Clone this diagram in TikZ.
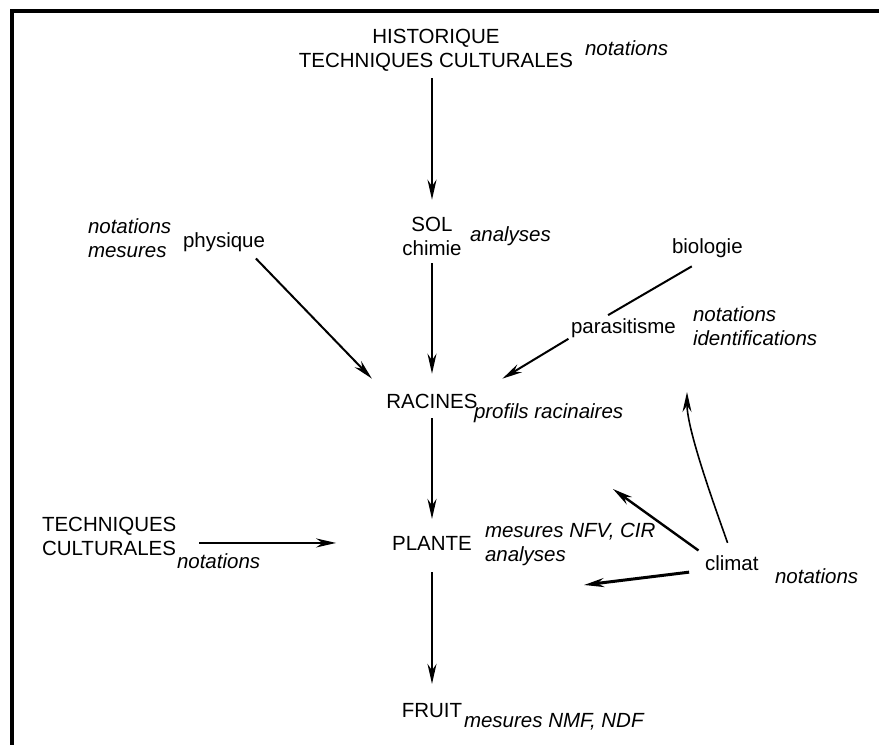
\documentclass[tikz,border=0pt]{standalone}
\usepackage{fontspec}
\setmainfont{Liberation Sans}
\usetikzlibrary{arrows.meta, calc}

\begin{document}
\begin{tikzpicture}[x=1pt, y=-1pt,
    every node/.style={inner sep=0pt, outer sep=0pt, font=\fontsize{20.5}{24}\selectfont},
    txt/.style={anchor=base},
    note/.style={anchor=base west, font=\fontsize{20.5}{24}\selectfont\itshape},
    arr/.style={line width=2pt, -{Stealth[length=20pt, width=9pt]}}]
    \useasboundingbox (0,0) rectangle (879,745);
    % frame
    \draw[line width=3.2pt] (12,746) -- (12,11) -- (880,11);

    % main nodes
    \node[align=center, anchor=south] (hist) at (436,71) {HISTORIQUE\\TECHNIQUES CULTURALES};
    \node[align=center, anchor=base] (sol) at (432,255) {SOL\\chimie};
    \node[anchor=base west] (phys) at (183,247) {physique};
    \node[anchor=base west] (bio) at (672,253) {biologie};
    \node[anchor=base west] (para) at (571,333) {parasitisme};
    \node[txt] (racines) at (432,408) {RACINES};
    \node[align=left, anchor=base west] (tc) at (42,555) {TECHNIQUES\\CULTURALES};
    \node[txt] (plante) at (432,550) {PLANTE};
    \node[anchor=base west] (climat) at (705,570) {climat};
    \node[txt] (fruit) at (432,717) {FRUIT};

    % annotations
    \node[note] (nhist) at (585,55) {notations};
    \node[note, align=left] (nphys) at (88,257) {notations\\mesures};
    \node[note] (nsol) at (470,241) {analyses};
    \node[note, align=left] (npara) at (693,345) {notations\\identifications};
    \node[note] (nrac) at (474,418) {profils racinaires};
    \node[note] (ntc) at (177,568) {notations};
    \node[note, align=left] (nplante) at (485,561) {mesures NFV, CIR\\analyses};
    \node[note] (nclim) at (775,583) {notations};
    \node[note] (nfruit) at (464,727) {mesures NMF, NDF};

    % free ends of the climat arrows
    \coordinate (c1) at (613,489);
    \coordinate (c2) at (687,392);
    \coordinate (c3) at (584,585);

    % connectors
    \draw[arr, shorten <=7pt, shorten >=17pt] (hist.south -| sol.north) -- (sol.north);
    \draw[arr, shorten <=8pt, shorten >=20pt] (sol.south) -- (racines.north);
    \draw[arr, shorten <=10pt, shorten >=21pt] (phys.-21) -- (racines.north west);
    \draw[line width=2pt, shorten <=18pt, shorten >=6pt] (bio.south) -- (para.155);
    \draw[arr, shorten <=3pt, shorten >=29pt] (para.south west) -- (racines.north east);
    \draw[arr, shorten <=10pt, shorten >=17pt] (racines.south) -- (plante.north);
    \draw[arr, line width=2.6pt, shorten <=23pt, shorten >=56pt] (tc.east |- plante.west) -- (plante.west);
    \draw[arr, shorten <=22pt, shorten >=19pt] (plante.south) -- (fruit.north);
    \draw[arr, line width=2.4pt, shorten <=8pt] (climat.north west) -- (c1);
    \draw[arr, line width=1.6pt, shorten <=13pt] (climat.north) .. controls +(-12,-35) and +(0,40) .. (c2);
    \draw[arr, line width=3pt, shorten <=16pt] (climat.south west) -- (c3);
\end{tikzpicture}
\end{document}
